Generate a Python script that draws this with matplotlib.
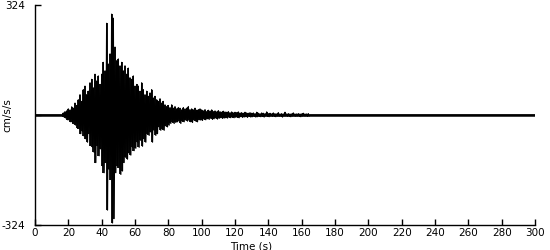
import matplotlib
matplotlib.use("Agg")
import matplotlib.pyplot as plt
import numpy as np

# Envelope of the accelerogram, one value per second
# starting at t = 15 s (cm/s/s). Outside this span the trace is flat.
T_START = 15
UPPER = [
    0, 0, 6, 10, 12, 18, 15, 24, 20, 35,
    28, 45, 60, 40, 75, 85, 60, 70, 95, 105,
    80, 120, 100, 115, 90, 120, 155, 130, 270, 150,
    180, 297, 285, 200, 160, 165, 145, 155, 130, 145,
    120, 138, 110, 105, 115, 85, 90, 85, 70, 95,
    75, 60, 70, 55, 65, 75, 50, 55, 45, 40,
    48, 35, 40, 30, 25, 28, 22, 30, 20, 25,
    18, 22, 20, 15, 22, 18, 20, 25, 16, 18,
    15, 20, 14, 16, 18, 15, 12, 16, 10, 14,
    12, 15, 10, 12, 9, 13, 10, 8, 11, 9,
    8, 10, 7, 9, 6, 8, 7, 9, 6, 7,
    5, 8, 6, 5, 7, 5, 6, 4, 8, 5,
    4, 6, 5, 4, 9, 4, 5, 3, 6, 4,
    3, 7, 3, 4, 3, 8, 3, 4, 3, 3,
    6, 3, 3, 4, 3, 3, 5, 3, 3, 4,
]
LOWER = [
    0, 0, 6, 9, 14, 15, 20, 22, 26, 30,
    38, 40, 55, 48, 62, 70, 80, 55, 90, 95,
    110, 140, 90, 120, 100, 150, 170, 140, 280, 160,
    190, 318, 305, 170, 150, 155, 175, 165, 140, 125,
    130, 112, 118, 95, 105, 98, 80, 95, 75, 92,
    70, 80, 55, 60, 50, 80, 45, 60, 55, 35,
    45, 40, 45, 32, 35, 30, 25, 20, 25, 22,
    20, 18, 25, 18, 20, 15, 18, 16, 20, 22,
    15, 18, 20, 14, 15, 16, 12, 14, 11, 13,
    10, 13, 11, 9, 12, 10, 8, 10, 9, 8,
    9, 7, 8, 6, 8, 7, 6, 8, 5, 7,
    6, 5, 7, 4, 6, 5, 4, 6, 5, 4,
    5, 4, 6, 3, 4, 5, 3, 4, 3, 5,
    3, 4, 3, 6, 3, 3, 4, 3, 5, 3,
    3, 4, 3, 3, 5, 3, 3, 3, 4, 3,
]
T_END = 300
Y_LIMIT = 324
X_TICKS = list(range(0, 301, 20))

t = T_START + np.arange(len(UPPER), dtype=float)
lower = -np.asarray(LOWER, dtype=float)
upper = np.asarray(UPPER, dtype=float)

# zigzag between peak and trough every half second
xs = np.empty(2 * len(t))
ys = np.empty(2 * len(t))
xs[0::2], xs[1::2] = t, t + 0.5
ys[0::2], ys[1::2] = upper, lower
xs = np.concatenate([[0], xs, [t[-1] + 1, T_END]])
ys = np.concatenate([[0], ys, [0, 0]])

plt.rcParams["font.family"] = ["DejaVu Sans"]
fig = plt.figure(figsize=(5.5, 2.5), dpi=100)
ax = fig.add_axes([35 / 550, 25 / 250, 500 / 550, 220 / 250])

ax.axhline(0, color="black", lw=1.8, zorder=1)
# solid body of the record: one stroke per second from trough to peak
ax.vlines(t, lower, upper, color="black", lw=1.3, zorder=2)
ax.plot(xs, ys, color="black", lw=0.9, zorder=3)

ax.set_xlim(0, T_END)
ax.set_ylim(-Y_LIMIT, Y_LIMIT)
ax.set_xticks(X_TICKS)
ax.set_yticks([-Y_LIMIT, 0, Y_LIMIT])
ax.set_yticklabels([str(-Y_LIMIT), "", str(Y_LIMIT)])
ax.tick_params(direction="in", length=4, width=1, labelsize=7.5, pad=2)
ax.tick_params(axis="y", pad=7)
ax.spines["top"].set_visible(False)
ax.spines["right"].set_visible(False)
for s in ("left", "bottom"):
    ax.spines[s].set_linewidth(1)
ax.set_xlabel("Time (s)", fontsize=7.5)
ax.xaxis.set_label_coords(0.432, -0.075)
ax.set_ylabel("cm/s/s", fontsize=7.5)
ax.yaxis.set_label_coords(-0.046, 0.5)

fig.savefig("out.png", dpi=100)
